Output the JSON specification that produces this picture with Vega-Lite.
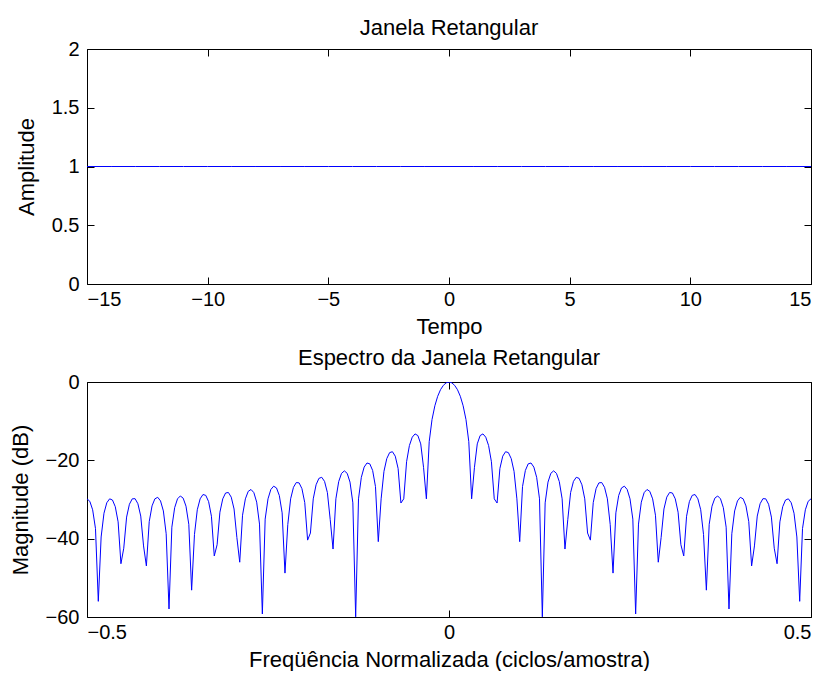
{
  "$schema": "https://vega.github.io/schema/vega-lite/v6.json",
  "background": "white",
  "padding": {"left": 8, "top": 16, "right": 0, "bottom": 0},
  "autosize": {"type": "pad"},
  "spacing": 98,
  "bounds": "flush",
  "config": {
    "font": "Liberation Sans",
    "view": {"stroke": "black", "strokeWidth": 1},
    "axis": {
      "grid": false,
      "domain": false,
      "tickColor": "black",
      "tickSize": -7,
      "tickWidth": 1,
      "labelFont": "Liberation Sans",
      "labelFontSize": 20,
      "labelColor": "black",
      "labelPadding": 15,
      "titleFont": "Liberation Sans",
      "titleFontSize": 22,
      "titleFontWeight": "normal",
      "titleColor": "black"
    },
    "axisX": {"titlePadding": 7, "labelPadding": 12},
    "axisY": {"titlePadding": 13},
    "title": {"font": "Liberation Sans", "fontSize": 22, "fontWeight": "normal", "color": "black", "frame": "group", "anchor": "middle"}
  },
  "vconcat": [
    {
      "title": {"text": "Janela Retangular", "offset": -1},
      "width": 724,
      "height": 235,
      "data": {"values": [
        {"t": -15, "amplitude": 1}, {"t": -14, "amplitude": 1}, {"t": -13, "amplitude": 1}, {"t": -12, "amplitude": 1},
        {"t": -11, "amplitude": 1}, {"t": -10, "amplitude": 1}, {"t": -9, "amplitude": 1}, {"t": -8, "amplitude": 1},
        {"t": -7, "amplitude": 1}, {"t": -6, "amplitude": 1}, {"t": -5, "amplitude": 1}, {"t": -4, "amplitude": 1},
        {"t": -3, "amplitude": 1}, {"t": -2, "amplitude": 1}, {"t": -1, "amplitude": 1}, {"t": 0, "amplitude": 1},
        {"t": 1, "amplitude": 1}, {"t": 2, "amplitude": 1}, {"t": 3, "amplitude": 1}, {"t": 4, "amplitude": 1},
        {"t": 5, "amplitude": 1}, {"t": 6, "amplitude": 1}, {"t": 7, "amplitude": 1}, {"t": 8, "amplitude": 1},
        {"t": 9, "amplitude": 1}, {"t": 10, "amplitude": 1}, {"t": 11, "amplitude": 1}, {"t": 12, "amplitude": 1},
        {"t": 13, "amplitude": 1}, {"t": 14, "amplitude": 1}, {"t": 15, "amplitude": 1}
      ]},
      "layer": [
        {
          "mark": {"type": "line", "color": "#0000ff", "strokeWidth": 1, "clip": true},
          "encoding": {
            "x": {"field": "t", "type": "quantitative",
                  "scale": {"domain": [-15, 15], "nice": false, "zero": false},
                  "axis": {"title": "Tempo", "values": [-15, -10, -5, 0, 5, 10, 15], "format": "d"}},
            "y": {"field": "amplitude", "type": "quantitative",
                  "scale": {"domain": [0, 2], "nice": false},
                  "axis": {"title": "Amplitude", "values": [0, 0.5, 1, 1.5, 2], "format": "~g"}}
          }
        },
        {
          "mark": {"type": "line", "opacity": 0},
          "encoding": {
            "x": {"field": "t", "type": "quantitative",
                  "axis": {"orient": "top", "labels": false, "title": null, "values": [-15, -10, -5, 0, 5, 10, 15]}},
            "y": {"field": "amplitude", "type": "quantitative",
                  "axis": {"orient": "right", "labels": false, "title": null, "values": [0, 0.5, 1, 1.5, 2]}}
          }
        }
      ],
      "resolve": {"axis": {"x": "independent", "y": "independent"}}
    },
    {
      "title": {"text": "Espectro da Janela Retangular", "offset": 2},
      "width": 724,
      "height": 235,
      "data": {"values": [
        {"f": -0.5, "db": -29.83}, {"f": -0.49609, "db": -30.47}, {"f": -0.49219, "db": -32.63}, {"f": -0.48828, "db": -37.43},
        {"f": -0.48438, "db": -56.0}, {"f": -0.48047, "db": -39.57}, {"f": -0.47656, "db": -33.5}, {"f": -0.47266, "db": -30.83},
        {"f": -0.46875, "db": -29.83}, {"f": -0.46484, "db": -30.13}, {"f": -0.46094, "db": -31.83}, {"f": -0.45703, "db": -35.71},
        {"f": -0.45313, "db": -46.4}, {"f": -0.44922, "db": -42.44}, {"f": -0.44531, "db": -34.49}, {"f": -0.44141, "db": -31.21},
        {"f": -0.4375, "db": -29.83}, {"f": -0.43359, "db": -29.79}, {"f": -0.42969, "db": -31.08}, {"f": -0.42578, "db": -34.23},
        {"f": -0.42188, "db": -41.85}, {"f": -0.41797, "db": -46.96}, {"f": -0.41406, "db": -35.65}, {"f": -0.41016, "db": -31.63},
        {"f": -0.40625, "db": -29.83}, {"f": -0.40234, "db": -29.44}, {"f": -0.39844, "db": -30.36}, {"f": -0.39453, "db": -32.92},
        {"f": -0.39063, "db": -38.75}, {"f": -0.38672, "db": -57.95}, {"f": -0.38281, "db": -37.07}, {"f": -0.37891, "db": -32.09},
        {"f": -0.375, "db": -29.83}, {"f": -0.37109, "db": -29.1}, {"f": -0.36719, "db": -29.65}, {"f": -0.36328, "db": -31.7},
        {"f": -0.35938, "db": -36.33}, {"f": -0.35547, "db": -53.15}, {"f": -0.35156, "db": -38.92}, {"f": -0.34766, "db": -32.62},
        {"f": -0.34375, "db": -29.83}, {"f": -0.33984, "db": -28.73}, {"f": -0.33594, "db": -28.94}, {"f": -0.33203, "db": -30.54},
        {"f": -0.32813, "db": -34.27}, {"f": -0.32422, "db": -44.41}, {"f": -0.32031, "db": -41.55}, {"f": -0.31641, "db": -33.24},
        {"f": -0.3125, "db": -29.83}, {"f": -0.30859, "db": -28.34}, {"f": -0.30469, "db": -28.21}, {"f": -0.30078, "db": -29.4},
        {"f": -0.29688, "db": -32.42}, {"f": -0.29297, "db": -39.72}, {"f": -0.28906, "db": -46.01}, {"f": -0.28516, "db": -34.01},
        {"f": -0.28125, "db": -29.83}, {"f": -0.27734, "db": -27.92}, {"f": -0.27344, "db": -27.44}, {"f": -0.26953, "db": -28.25},
        {"f": -0.26563, "db": -30.68}, {"f": -0.26172, "db": -36.28}, {"f": -0.25781, "db": -59.23}, {"f": -0.25391, "db": -35.01},
        {"f": -0.25, "db": -29.83}, {"f": -0.24609, "db": -27.44}, {"f": -0.24219, "db": -26.6}, {"f": -0.23828, "db": -27.05},
        {"f": -0.23438, "db": -28.97}, {"f": -0.23047, "db": -33.41}, {"f": -0.22656, "db": -48.79}, {"f": -0.22266, "db": -36.4},
        {"f": -0.21875, "db": -29.83}, {"f": -0.21484, "db": -26.89}, {"f": -0.21094, "db": -25.67}, {"f": -0.20703, "db": -25.76},
        {"f": -0.20313, "db": -27.23}, {"f": -0.19922, "db": -30.79}, {"f": -0.19531, "db": -40.37}, {"f": -0.19141, "db": -38.56},
        {"f": -0.1875, "db": -29.83}, {"f": -0.18359, "db": -26.24}, {"f": -0.17969, "db": -24.61}, {"f": -0.17578, "db": -24.33},
        {"f": -0.17188, "db": -25.38}, {"f": -0.16797, "db": -28.23}, {"f": -0.16406, "db": -35.16}, {"f": -0.16016, "db": -42.65},
        {"f": -0.15625, "db": -29.83}, {"f": -0.15234, "db": -25.42}, {"f": -0.14844, "db": -23.33}, {"f": -0.14453, "db": -22.69},
        {"f": -0.14063, "db": -23.32}, {"f": -0.13672, "db": -25.56}, {"f": -0.13281, "db": -30.86}, {"f": -0.12891, "db": -59.96},
        {"f": -0.125, "db": -29.83}, {"f": -0.12109, "db": -24.34}, {"f": -0.11719, "db": -21.73}, {"f": -0.11328, "db": -20.68},
        {"f": -0.10938, "db": -20.9}, {"f": -0.10547, "db": -22.58}, {"f": -0.10156, "db": -26.7}, {"f": -0.09766, "db": -40.76},
        {"f": -0.09375, "db": -29.83}, {"f": -0.08984, "db": -22.81}, {"f": -0.08594, "db": -19.56}, {"f": -0.08203, "db": -18.03},
        {"f": -0.07813, "db": -17.8}, {"f": -0.07422, "db": -18.93}, {"f": -0.07031, "db": -22.07}, {"f": -0.06641, "db": -30.9},
        {"f": -0.0625, "db": -29.83}, {"f": -0.05859, "db": -20.35}, {"f": -0.05469, "db": -16.23}, {"f": -0.05078, "db": -14.09},
        {"f": -0.04688, "db": -13.25}, {"f": -0.04297, "db": -13.68}, {"f": -0.03906, "db": -15.8}, {"f": -0.03516, "db": -21.78},
        {"f": -0.03125, "db": -29.83}, {"f": -0.02734, "db": -15.23}, {"f": -0.02344, "db": -9.58}, {"f": -0.01953, "db": -6.07},
        {"f": -0.01563, "db": -3.65}, {"f": -0.01172, "db": -1.97}, {"f": -0.00781, "db": -0.86}, {"f": -0.00391, "db": -0.21},
        {"f": 0, "db": 0},
        {"f": 0.00391, "db": -0.21}, {"f": 0.00781, "db": -0.86}, {"f": 0.01172, "db": -1.97}, {"f": 0.01563, "db": -3.65},
        {"f": 0.01953, "db": -6.07}, {"f": 0.02344, "db": -9.58}, {"f": 0.02734, "db": -15.23}, {"f": 0.03125, "db": -29.83},
        {"f": 0.03516, "db": -21.78}, {"f": 0.03906, "db": -15.8}, {"f": 0.04297, "db": -13.68}, {"f": 0.04688, "db": -13.25},
        {"f": 0.05078, "db": -14.09}, {"f": 0.05469, "db": -16.23}, {"f": 0.05859, "db": -20.35}, {"f": 0.0625, "db": -29.83},
        {"f": 0.06641, "db": -30.9}, {"f": 0.07031, "db": -22.07}, {"f": 0.07422, "db": -18.93}, {"f": 0.07813, "db": -17.8},
        {"f": 0.08203, "db": -18.03}, {"f": 0.08594, "db": -19.56}, {"f": 0.08984, "db": -22.81}, {"f": 0.09375, "db": -29.83},
        {"f": 0.09766, "db": -40.76}, {"f": 0.10156, "db": -26.7}, {"f": 0.10547, "db": -22.58}, {"f": 0.10938, "db": -20.9},
        {"f": 0.11328, "db": -20.68}, {"f": 0.11719, "db": -21.73}, {"f": 0.12109, "db": -24.34}, {"f": 0.125, "db": -29.83},
        {"f": 0.12891, "db": -59.96}, {"f": 0.13281, "db": -30.86}, {"f": 0.13672, "db": -25.56}, {"f": 0.14063, "db": -23.32},
        {"f": 0.14453, "db": -22.69}, {"f": 0.14844, "db": -23.33}, {"f": 0.15234, "db": -25.42}, {"f": 0.15625, "db": -29.83},
        {"f": 0.16016, "db": -42.65}, {"f": 0.16406, "db": -35.16}, {"f": 0.16797, "db": -28.23}, {"f": 0.17188, "db": -25.38},
        {"f": 0.17578, "db": -24.33}, {"f": 0.17969, "db": -24.61}, {"f": 0.18359, "db": -26.24}, {"f": 0.1875, "db": -29.83},
        {"f": 0.19141, "db": -38.56}, {"f": 0.19531, "db": -40.37}, {"f": 0.19922, "db": -30.79}, {"f": 0.20313, "db": -27.23},
        {"f": 0.20703, "db": -25.76}, {"f": 0.21094, "db": -25.67}, {"f": 0.21484, "db": -26.89}, {"f": 0.21875, "db": -29.83},
        {"f": 0.22266, "db": -36.4}, {"f": 0.22656, "db": -48.79}, {"f": 0.23047, "db": -33.41}, {"f": 0.23438, "db": -28.97},
        {"f": 0.23828, "db": -27.05}, {"f": 0.24219, "db": -26.6}, {"f": 0.24609, "db": -27.44}, {"f": 0.25, "db": -29.83},
        {"f": 0.25391, "db": -35.01}, {"f": 0.25781, "db": -59.23}, {"f": 0.26172, "db": -36.28}, {"f": 0.26563, "db": -30.68},
        {"f": 0.26953, "db": -28.25}, {"f": 0.27344, "db": -27.44}, {"f": 0.27734, "db": -27.92}, {"f": 0.28125, "db": -29.83},
        {"f": 0.28516, "db": -34.01}, {"f": 0.28906, "db": -46.01}, {"f": 0.29297, "db": -39.72}, {"f": 0.29688, "db": -32.42},
        {"f": 0.30078, "db": -29.4}, {"f": 0.30469, "db": -28.21}, {"f": 0.30859, "db": -28.34}, {"f": 0.3125, "db": -29.83},
        {"f": 0.31641, "db": -33.24}, {"f": 0.32031, "db": -41.55}, {"f": 0.32422, "db": -44.41}, {"f": 0.32813, "db": -34.27},
        {"f": 0.33203, "db": -30.54}, {"f": 0.33594, "db": -28.94}, {"f": 0.33984, "db": -28.73}, {"f": 0.34375, "db": -29.83},
        {"f": 0.34766, "db": -32.62}, {"f": 0.35156, "db": -38.92}, {"f": 0.35547, "db": -53.15}, {"f": 0.35938, "db": -36.33},
        {"f": 0.36328, "db": -31.7}, {"f": 0.36719, "db": -29.65}, {"f": 0.37109, "db": -29.1}, {"f": 0.375, "db": -29.83},
        {"f": 0.37891, "db": -32.09}, {"f": 0.38281, "db": -37.07}, {"f": 0.38672, "db": -57.95}, {"f": 0.39063, "db": -38.75},
        {"f": 0.39453, "db": -32.92}, {"f": 0.39844, "db": -30.36}, {"f": 0.40234, "db": -29.44}, {"f": 0.40625, "db": -29.83},
        {"f": 0.41016, "db": -31.63}, {"f": 0.41406, "db": -35.65}, {"f": 0.41797, "db": -46.96}, {"f": 0.42188, "db": -41.85},
        {"f": 0.42578, "db": -34.23}, {"f": 0.42969, "db": -31.08}, {"f": 0.43359, "db": -29.79}, {"f": 0.4375, "db": -29.83},
        {"f": 0.44141, "db": -31.21}, {"f": 0.44531, "db": -34.49}, {"f": 0.44922, "db": -42.44}, {"f": 0.45313, "db": -46.4},
        {"f": 0.45703, "db": -35.71}, {"f": 0.46094, "db": -31.83}, {"f": 0.46484, "db": -30.13}, {"f": 0.46875, "db": -29.83},
        {"f": 0.47266, "db": -30.83}, {"f": 0.47656, "db": -33.5}, {"f": 0.48047, "db": -39.57}, {"f": 0.48438, "db": -56.0},
        {"f": 0.48828, "db": -37.43}, {"f": 0.49219, "db": -32.63}, {"f": 0.49609, "db": -30.47}, {"f": 0.5, "db": -29.83}
      ]},
      "layer": [
        {
          "mark": {"type": "line", "color": "#0000ff", "strokeWidth": 1, "clip": true},
          "encoding": {
            "x": {"field": "f", "type": "quantitative",
                  "scale": {"domain": [-0.5, 0.5], "nice": false, "zero": false},
                  "axis": {"title": "Freqüência Normalizada (ciclos/amostra)", "values": [-0.5, 0, 0.5], "format": "~g"}},
            "y": {"field": "db", "type": "quantitative",
                  "scale": {"domain": [-60, 0], "nice": false},
                  "axis": {"title": "Magnitude (dB)", "values": [-60, -40, -20, 0], "format": "d"}}
          }
        },
        {
          "mark": {"type": "line", "opacity": 0},
          "encoding": {
            "x": {"field": "f", "type": "quantitative",
                  "axis": {"orient": "top", "labels": false, "title": null, "values": [-0.5, 0, 0.5]}},
            "y": {"field": "db", "type": "quantitative",
                  "axis": {"orient": "right", "labels": false, "title": null, "values": [-60, -40, -20, 0]}}
          }
        }
      ],
      "resolve": {"axis": {"x": "independent", "y": "independent"}}
    }
  ]
}
